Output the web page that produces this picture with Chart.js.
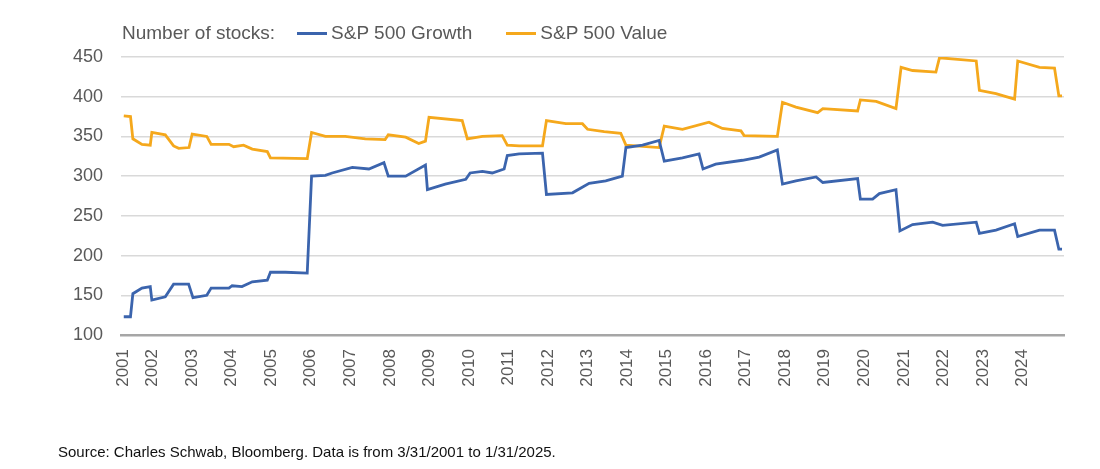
<!DOCTYPE html>
<html>
<head>
<meta charset="utf-8">
<script src="https://cdn.jsdelivr.net/npm/chart.js@4"></script>
<style>
  body { margin: 0; background: #fff; font-family: "Liberation Sans", Arial, sans-serif; }
  #wrap { position: relative; width: 1100px; height: 469px; }
  #legend { position: absolute; left: 122px; top: 22px; font-size: 19px; color: #595959; display: flex; align-items: center; }
  #legend .sw { display: inline-block; width: 30px; height: 3px; margin: 0 4px 0 22px; }
  #source { position: absolute; left: 58px; top: 443px; font-size: 15px; color: #111; }
</style>
</head>
<body>
<div id="wrap">
  <canvas id="chart" width="1100" height="469"></canvas>
  <div id="legend">
    <span>Number of stocks:</span>
    <span class="sw" style="background:#3b64ad"></span><span>S&amp;P 500 Growth</span>
    <span class="sw" style="background:#f5a81c;margin-left:34px"></span><span>S&amp;P 500 Value</span>
  </div>
  <div id="source">Source: Charles Schwab, Bloomberg. Data is from 3/31/2001 to 1/31/2025.</div>
</div>
<script>
// S&P 500 Growth, number of stocks (date as decimal year)
const growthX = [2001.27, 2001.44, 2001.5, 2001.73, 2001.94, 2001.98, 2002.32, 2002.53, 2002.91, 2003.02, 2003.37, 2003.48, 2003.93, 2004.01, 2004.26, 2004.52, 2004.9, 2004.98, 2005.36, 2005.91, 2006.02, 2006.37, 2006.54, 2007.05, 2007.47, 2007.85, 2007.96, 2008.4, 2008.9, 2008.95, 2009.4, 2009.92, 2010.03, 2010.34, 2010.59, 2010.89, 2010.97, 2011.27, 2011.86, 2011.96, 2012.62, 2013.04, 2013.46, 2013.88, 2013.97, 2014.39, 2014.81, 2014.94, 2015.4, 2015.82, 2015.92, 2016.24, 2016.92, 2017.34, 2017.8, 2017.93, 2018.27, 2018.78, 2018.95, 2019.83, 2019.9, 2020.21, 2020.38, 2020.8, 2020.9, 2021.22, 2021.73, 2021.98, 2022.83, 2022.91, 2023.33, 2023.8, 2023.88, 2024.43, 2024.81, 2024.92, 2025.0];
const growthY = [123, 123, 152, 159, 161, 144, 148, 164, 164, 147, 150, 159, 159, 162, 161, 167, 169, 179, 179, 178, 300, 301, 304, 311, 309, 317, 300, 300, 314, 283, 290, 296, 304, 306, 304, 309, 326, 328, 329, 277, 279, 291, 294, 300, 336, 339, 345, 319, 323, 328, 309, 315, 320, 324, 333, 290, 294, 299, 292, 297, 271, 271, 278, 283, 231, 239, 242, 238, 242, 228, 232, 240, 224, 232, 232, 208, 208];

// S&P 500 Value, number of stocks
const valueX = [2001.27, 2001.44, 2001.5, 2001.73, 2001.94, 2001.98, 2002.32, 2002.53, 2002.66, 2002.92, 2003.0, 2003.37, 2003.48, 2003.93, 2004.05, 2004.3, 2004.52, 2004.9, 2004.98, 2005.91, 2006.02, 2006.37, 2006.87, 2007.38, 2007.88, 2007.96, 2008.4, 2008.73, 2008.9, 2008.99, 2009.83, 2009.96, 2010.34, 2010.84, 2010.97, 2011.27, 2011.86, 2011.96, 2012.45, 2012.87, 2013.0, 2013.42, 2013.84, 2013.97, 2014.81, 2014.94, 2015.4, 2016.07, 2016.41, 2016.88, 2016.96, 2017.8, 2017.93, 2018.27, 2018.82, 2018.95, 2019.83, 2019.9, 2020.3, 2020.8, 2020.93, 2021.22, 2021.81, 2021.9, 2022.83, 2022.91, 2023.33, 2023.8, 2023.88, 2024.43, 2024.81, 2024.92, 2025.0];
const valueY = [376, 375, 347, 340, 339, 355, 352, 338, 335, 336, 353, 350, 340, 340, 337, 339, 334, 331, 323, 322, 355, 350, 350, 347, 346, 352, 349, 341, 344, 374, 370, 347, 350, 351, 339, 338, 338, 370, 366, 366, 359, 356, 354, 339, 336, 363, 359, 368, 360, 357, 351, 350, 393, 387, 380, 385, 382, 396, 394, 385, 437, 433, 431, 449, 445, 408, 404, 397, 445, 437, 436, 401, 401];

const yearTicks = [2001.27, 2002, 2003, 2004, 2005, 2006, 2007, 2008, 2009, 2010, 2011, 2012, 2013, 2014, 2015, 2016, 2017, 2018, 2019, 2020, 2021, 2022, 2023, 2024];

const toPoints = (xs, ys) => xs.map((x, i) => ({ x: x, y: ys[i] }));

new Chart(document.getElementById("chart"), {
  type: "line",
  data: {
    datasets: [
      {
        label: "S&P 500 Growth",
        data: toPoints(growthX, growthY),
        borderColor: "#3b64ad",
        borderWidth: 2.8,
        pointRadius: 0,
        tension: 0,
      },
      {
        label: "S&P 500 Value",
        data: toPoints(valueX, valueY),
        borderColor: "#f5a81c",
        borderWidth: 2.8,
        pointRadius: 0,
        tension: 0,
      },
    ],
  },
  options: {
    responsive: false,
    animation: false,
    layout: { padding: { top: 57, right: 36, bottom: 66, left: 0 } },
    plugins: { legend: { display: false }, tooltip: { enabled: false } },
    scales: {
      x: {
        type: "linear",
        min: 2001.2,
        max: 2025.05,
        afterBuildTicks: (axis) => {
          axis.ticks = yearTicks.map((v) => ({ value: v }));
        },
        afterFit: (axis) => { axis.height = 68; },
        grid: { display: false },
        border: { display: true, color: "#a6a6a6", width: 2.5 },
        ticks: {
          minRotation: 90,
          maxRotation: 90,
          color: "#595959",
          font: { family: "Liberation Sans", size: 17 },
          padding: 6,
          callback: (v) => String(Math.floor(v)),
        },
      },
      y: {
        min: 100,
        max: 450,
        afterFit: (axis) => { axis.width = 121; },
        grid: { color: "#d9d9d9", lineWidth: 1.5, drawTicks: false },
        border: { display: false },
        ticks: {
          stepSize: 50,
          color: "#595959",
          font: { family: "Liberation Sans", size: 18 },
          padding: 18,
        },
      },
    },
  },
});
</script>
</body>
</html>
